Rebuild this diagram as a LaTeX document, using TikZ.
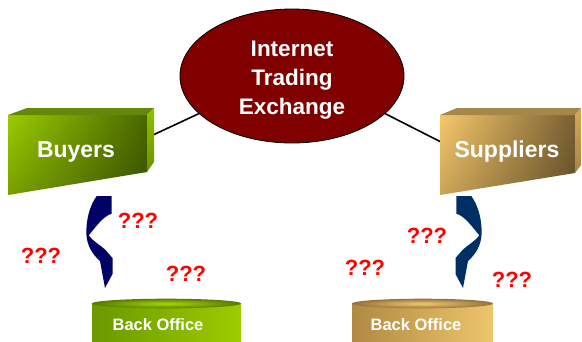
\documentclass[tikz,border=0pt]{standalone}
\usepackage{fontspec}
\setmainfont{Liberation Sans}
\usetikzlibrary{shapes.geometric,fadings}

\definecolor{hubred}{HTML}{800000}
\definecolor{grLight}{HTML}{9ACD00}
\definecolor{grDark}{HTML}{4A6800}
\definecolor{grTop}{HTML}{66880A}
\definecolor{grSide}{HTML}{8EC200}
\definecolor{grSideLow}{HTML}{6A9200}
\definecolor{gdLight}{HTML}{F7C96B}
\definecolor{gdDark}{HTML}{7A6133}
\definecolor{gdTop}{HTML}{A6874A}
\definecolor{gdSide}{HTML}{D4AA58}
\definecolor{gdSideLow}{HTML}{A88545}
\definecolor{navyL}{HTML}{000066}
\definecolor{navyR}{HTML}{003063}
\definecolor{cylGrL}{HTML}{6A9800}
\definecolor{cylGrR}{HTML}{9ECC00}
\definecolor{cylGrIn}{HTML}{A8D800}
\definecolor{cylGrOut}{HTML}{587A00}
\definecolor{cylGdL}{HTML}{B08A42}
\definecolor{cylGdR}{HTML}{EEC46C}
\definecolor{cylGdIn}{HTML}{F2CA72}
\definecolor{cylGdOut}{HTML}{94733A}

% curved arrow bending left and down, tip at the bottom
\newcommand{\curvedarrowpath}{%
  (96.7,196) .. controls (89.5,206) and (86,220) .. (86.4,234)
  .. controls (86.8,245) and (92,254) .. (100,261)
  -- (105,288) -- (112.5,274) -- (112.5,258) -- (105,249.5)
  .. controls (100,245) and (93,241) .. (88.6,235.5)
  .. controls (95,228) and (103,216) .. (111.7,213.7)
  -- (111.7,196) -- cycle}

\begin{document}
\begin{tikzpicture}[x=1pt,y=-1pt,
  conn/.style={draw=black, line width=1.6pt},
  hublabel/.style={text=white, font=\fontsize{22.5}{29}\selectfont\bfseries, align=center, inner sep=0pt},
  boxlabel/.style={text=white, font=\fontsize{23}{27}\selectfont\bfseries, inner sep=0pt, anchor=base},
  qlabel/.style={text=red, font=\fontsize{22}{26}\selectfont\bfseries, inner sep=0pt, anchor=base},
  cyllabel/.style={text=white, font=\fontsize{16.5}{20}\selectfont\bfseries, inner sep=0pt, anchor=base}]
\useasboundingbox (0,0) rectangle (582,341);

% the exchange hub
\node[ellipse, draw=black, line width=0.8pt, fill=hubred, minimum width=224pt,
      minimum height=134pt, inner sep=0pt] (hub) at (292,76) {};
\node[hublabel] (hubtext) at (292,80) {Internet\\Trading\\Exchange};

% connector end points on the two boxes
\coordinate (buyersE) at (153,135);
\coordinate (suppliersW) at (441,142);
\draw[conn] (buyersE) -- (hub.202);
\draw[conn] (suppliersW) -- (hub.-22);

% Buyers block
\shade[left color=grLight, right color=grDark]
  (8,115) -- (147,115) -- (147,172) -- (8,195) -- cycle;
\fill[black, opacity=0.22, path fading=north]
  (8,115) -- (147,115) -- (147,172) -- (8,195) -- cycle;
\fill[grTop] (8,115) -- (27,108) -- (154,108) -- (147,115) -- cycle;
\shade[top color=grSide, bottom color=grSideLow]
  (147,115) -- (154,108) -- (154,162) -- (147,172) -- cycle;
\node[boxlabel] (buyers) at (76,157) {Buyers};

% Suppliers block
\shade[left color=gdLight, right color=gdDark]
  (440,115) -- (575,115) -- (575,173) -- (440,195) -- cycle;
\fill[black, opacity=0.18, path fading=north]
  (440,115) -- (575,115) -- (575,173) -- (440,195) -- cycle;
\fill[gdTop] (440,115) -- (457,108) -- (581,108) -- (575,115) -- cycle;
\shade[top color=gdSide, bottom color=gdSideLow]
  (575,115) -- (581,108) -- (581,165) -- (575,173) -- cycle;
\node[boxlabel] (suppliers) at (507,157) {Suppliers};

% curved arrows down to the back offices
\fill[navyL] \curvedarrowpath;
\begin{scope}[shift={(568,0)}, xscale=-1]
\fill[navyR] \curvedarrowpath;
\end{scope}

% back office cylinders
\shade[left color=cylGrL, right color=cylGrR]
  (92,303.5) rectangle (241,341);
\shade[inner color=cylGrIn, outer color=cylGrOut]
  (166.5,303.5) ellipse [x radius=74.5, y radius=4.8];
\node[cyllabel] (boBuyers) at (158,330) {Back Office};

\shade[left color=cylGdL, right color=cylGdR]
  (352,303.5) rectangle (493,341);
\shade[inner color=cylGdIn, outer color=cylGdOut]
  (422.5,303.5) ellipse [x radius=70.5, y radius=4.8];
\node[cyllabel] (boSuppliers) at (416,330) {Back Office};

% open questions
\node[qlabel] (q1) at (41,263) {???};
\node[qlabel] (q2) at (138,228) {???};
\node[qlabel] (q3) at (186,281) {???};
\node[qlabel] (q4) at (427,243) {???};
\node[qlabel] (q5) at (365,275) {???};
\node[qlabel] (q6) at (512,287) {???};
\end{tikzpicture}
\end{document}
